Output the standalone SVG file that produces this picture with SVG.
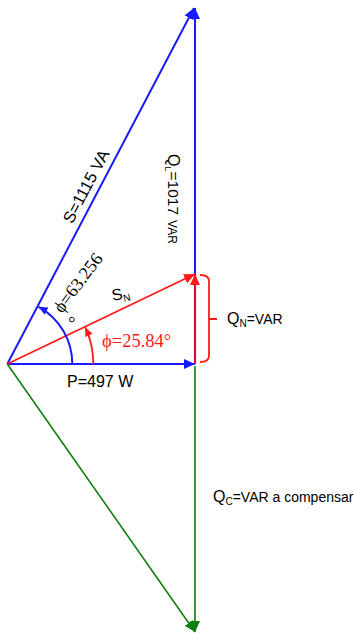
<svg xmlns="http://www.w3.org/2000/svg" width="354" height="633" viewBox="0 0 354 633">
<style>
.lbl{font-family:"Liberation Sans",Arial,sans-serif;fill:#000;}
.ser{font-family:"Liberation Serif","Times New Roman",serif;}
.b{stroke:#1a1aff;stroke-width:2;fill:none;}
.r{stroke:#ff1a1a;stroke-width:1.8;fill:none;}
.cr{stroke:#d0103a;stroke-width:2.2;fill:none;}
.g{stroke:#108010;stroke-width:1.6;fill:none;}
</style>
<defs>
<marker id="ab" markerUnits="userSpaceOnUse" markerWidth="12" markerHeight="11" refX="11" refY="5" orient="auto"><path d="M0,0 L11,5 L0,10 z" fill="#1a1aff"/></marker>
<marker id="ar" markerUnits="userSpaceOnUse" markerWidth="12" markerHeight="11" refX="11" refY="5" orient="auto"><path d="M0,0 L11,5 L0,10 z" fill="#ff1a1a"/></marker>
<marker id="ag" markerUnits="userSpaceOnUse" markerWidth="12" markerHeight="11" refX="11" refY="5" orient="auto"><path d="M0,0 L11,5 L0,10 z" fill="#108010"/></marker>
<marker id="abs" markerUnits="userSpaceOnUse" markerWidth="10" markerHeight="9" refX="9" refY="4" orient="auto"><path d="M0,0 L9,4 L0,8 z" fill="#1a1aff"/></marker>
<marker id="ars" markerUnits="userSpaceOnUse" markerWidth="10" markerHeight="9" refX="9" refY="4" orient="auto"><path d="M0,0 L9,4 L0,8 z" fill="#ff1a1a"/></marker>
</defs>
<g id="connectors">
<line id="S" class="b" x1="7.3" y1="364" x2="194" y2="8" marker-end="url(#ab)"/>
<line id="QL" class="b" x1="195" y1="364" x2="195" y2="8" marker-end="url(#ab)"/>
<line id="P" class="b" x1="7.3" y1="364" x2="195" y2="364" marker-end="url(#ab)"/>
<line id="SN" class="r" x1="7.3" y1="364" x2="195" y2="274" marker-end="url(#ar)"/>
<line id="QN" class="cr" x1="195" y1="364" x2="195" y2="274" marker-end="url(#ar)"/>
<line id="Sg" class="g" x1="7.3" y1="364" x2="195" y2="632" marker-end="url(#ag)"/>
<line id="QC" class="g" x1="195" y1="366" x2="195" y2="632" marker-end="url(#ag)"/>
<path id="arcS" class="b" d="M72.3 364 A65 65 0 0 0 38.6 306.8" stroke-width="1.8" marker-end="url(#abs)"/>
<path id="arcN" class="r" d="M93.3 364 A86 86 0 0 0 85.2 327.2" marker-end="url(#ars)"/>
<path id="brace" class="r" d="M200 275 Q209 275 209 281 L209 356 Q209 362 200 362 M209 319 L217 319"/>
</g>
<g id="label-S">
<text class="lbl" font-size="16.5" text-anchor="middle" transform="translate(91,189) rotate(-62)">S=1115 VA</text>
</g>
<g id="label-QL">
<text class="lbl" transform="translate(168,154) rotate(90)"><tspan font-size="16">Q</tspan><tspan font-size="9" dy="3">L</tspan><tspan font-size="15.5" dy="-3">=1017</tspan><tspan font-size="12" dx="5">VAR</tspan></text>
</g>
<g id="label-SN">
<text class="lbl" transform="translate(113,301) rotate(-12)"><tspan font-size="16">S</tspan><tspan font-size="10" dy="3">N</tspan></text>
</g>
<g id="label-phi1">
<text class="ser" font-size="18" fill="#000" transform="translate(62,314) rotate(-53)">ϕ=63.256</text>
<text class="ser" font-size="18" fill="#000" transform="translate(77,328) rotate(-53)">°</text>
</g>
<g id="label-phi2">
<text class="ser" font-size="18.5" fill="#ff1a1a" x="102" y="347">ϕ=25.84°</text>
</g>
<g id="label-P">
<text class="lbl" font-size="16" x="67" y="387">P=497 W</text>
</g>
<g id="label-QN">
<text class="lbl" x="227" y="324"><tspan font-size="16">Q</tspan><tspan font-size="10" dy="3">N</tspan><tspan font-size="14" dy="-3">=VAR</tspan></text>
</g>
<g id="label-QC">
<text class="lbl" x="213" y="502"><tspan font-size="16">Q</tspan><tspan font-size="10" dy="3">C</tspan><tspan font-size="14" dy="-3">=VAR a compensar</tspan></text>
</g>
</svg>
